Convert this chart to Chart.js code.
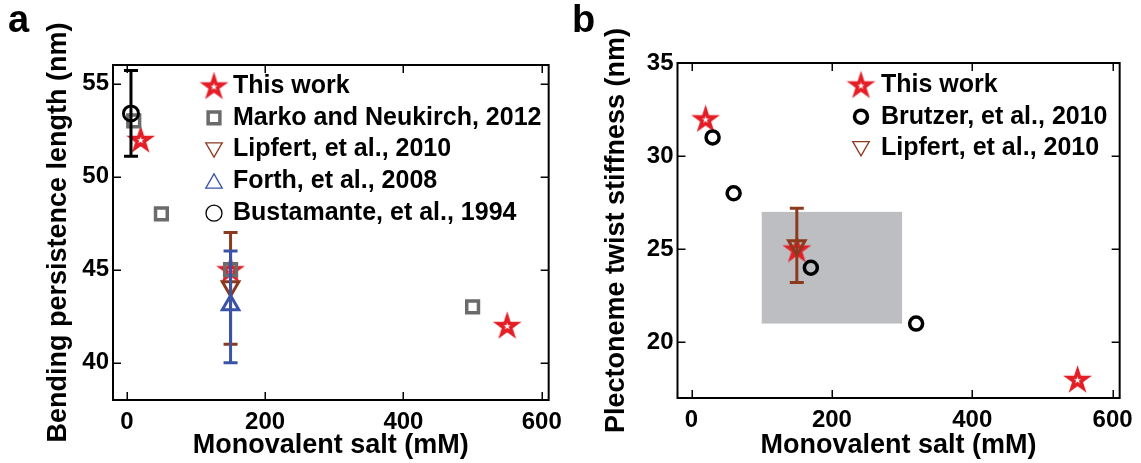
<!DOCTYPE html>
<html><head><meta charset="utf-8">
<script src="https://cdn.jsdelivr.net/npm/chart.js@4/dist/chart.umd.min.js"></script>
<style>
html,body{margin:0;padding:0;background:#fff;width:1141px;height:463px;overflow:hidden;}
#wrap{position:relative;width:1141px;height:463px;}
canvas{position:absolute;top:0;}
#ca{left:0;} #cb{left:570px;}
.lbl{position:absolute;font:bold 38px "Liberation Sans";line-height:38px;color:#000;}
</style></head><body>
<div id="wrap">
<canvas id="ca" width="570" height="463"></canvas>
<canvas id="cb" width="571" height="463"></canvas>
<div class="lbl" style="left:8px;top:0px">a</div>
<div class="lbl" style="left:572px;top:0px">b</div>
</div>
<script>
// ---------- data ----------
const xTicks = [0, 200, 400, 600];
const yTicksA = [40, 45, 50, 55];
const yTicksB = [20, 25, 30, 35];

// panel a
const thisWorkAX = [20, 150, 550];
const thisWorkAY = [52, 45, 42];
const markoX = [10, 50, 150, 500];
const markoY = [53, 48, 45, 43];
const lipfertAX = [150];
const lipfertAY = [44.1];
const lipfertALow = [41];
const lipfertAHigh = [47];
const forthX = [150];
const forthY = [43.1];
const forthLow = [40];
const forthHigh = [46];
const bustX = [6];
const bustY = [53.4];
const bustLow = [51.1];
const bustHigh = [55.7];

// panel b
const thisWorkBX = [20, 150, 550];
const thisWorkBY = [32, 25, 18];
const brutzerX = [30, 60, 170, 320];
const brutzerY = [31, 28, 24, 21];
const lipfertBX = [150];
const lipfertBY = [25.2];
const lipfertBLow = [23.2];
const lipfertBHigh = [27.2];
const shadeX = [100, 300];
const shadeY = [21, 27];

const labelsA = ["This work", "Marko and Neukirch, 2012", "Lipfert, et al., 2010", "Forth, et al., 2008", "Bustamante, et al., 1994"];
const labelsB = ["This work", "Brutzer, et al., 2010", "Lipfert, et al., 2010"];
const xTitle = "Monovalent salt (mM)";
const yTitleA = "Bending persistence length (nm)";
const yTitleB = "Plectoneme twist stiffness (nm)";

// ---------- styles ----------
const RED = '#e41e26', GRAY = '#6b6b6b', BROWN = '#8c3a1d', BLUE = '#3a53a6', BLACK = '#000000', SHADE = '#bdbec1';
const FONT = '"Liberation Sans", Arial, sans-serif';

function makeStar(R, lw, color) {
  const s = Math.ceil(2 * (R + lw * 2.5));
  const c = document.createElement('canvas');
  c.width = c.height = s;
  const g = c.getContext('2d');
  const cx = s / 2, cy = s / 2 + R * 0.095;
  g.beginPath();
  for (let k = 0; k < 10; k++) {
    const rr = k % 2 ? R * 0.382 : R;
    const ang = -Math.PI / 2 + k * Math.PI / 5;
    g.lineTo(cx + rr * Math.cos(ang), cy + rr * Math.sin(ang));
  }
  g.closePath();
  g.fillStyle = '#fff'; g.fill();
  g.lineJoin = 'miter'; g.miterLimit = 10;
  g.lineWidth = lw; g.strokeStyle = color; g.stroke();
  return c;
}
const STAR = makeStar(9.5, 3.5, RED);

const pts = (xs, ys) => xs.map((x, i) => ({x: x, y: ys[i]}));

// ---------- plugins ----------
const shadePlugin = {
  id: 'shade',
  beforeDatasetsDraw(chart, args, opts) {
    if (!opts || !opts.x) return;
    const {ctx, scales: {x, y}} = chart;
    const x0 = x.getPixelForValue(opts.x[0]), x1 = x.getPixelForValue(opts.x[1]);
    const y0 = y.getPixelForValue(opts.y[0]), y1 = y.getPixelForValue(opts.y[1]);
    ctx.save();
    ctx.fillStyle = opts.color;
    ctx.fillRect(x0, y1, x1 - x0, y0 - y1);
    ctx.restore();
  }
};

const errorPlugin = {
  id: 'errbars',
  beforeDatasetDraw(chart, args) {
    const ds = chart.data.datasets[args.index];
    if (!ds.errLow) return;
    const {ctx, scales: {x, y}} = chart;
    ctx.save();
    ctx.strokeStyle = ds.errColor;
    ctx.lineWidth = 3;
    ctx.lineCap = 'butt';
    const hw = 7;
    ds.data.forEach((p, i) => {
      const px = x.getPixelForValue(p.x);
      const lo = y.getPixelForValue(ds.errLow[i]);
      const hi = y.getPixelForValue(ds.errHigh[i]);
      ctx.beginPath();
      ctx.moveTo(px, lo); ctx.lineTo(px, hi);
      ctx.moveTo(px - hw, lo); ctx.lineTo(px + hw, lo);
      ctx.moveTo(px - hw, hi); ctx.lineTo(px + hw, hi);
      ctx.stroke();
    });
    ctx.restore();
  }
};

const framePlugin = {
  id: 'frame',
  afterDatasetsDraw(chart) {
    const {ctx, chartArea: a, scales: {x, y}} = chart;
    ctx.save();
    ctx.strokeStyle = '#000';
    ctx.lineWidth = 1.5;
    const L = 8;
    ctx.beginPath();
    x.ticks.forEach(t => {
      const px = Math.round(x.getPixelForValue(t.value)) + 0.25;
      ctx.moveTo(px, a.bottom); ctx.lineTo(px, a.bottom - L);
      ctx.moveTo(px, a.top); ctx.lineTo(px, a.top + L);
    });
    y.ticks.forEach(t => {
      const py = Math.round(y.getPixelForValue(t.value)) + 0.25;
      ctx.moveTo(a.left, py); ctx.lineTo(a.left + L, py);
      ctx.moveTo(a.right, py); ctx.lineTo(a.right - L, py);
    });
    ctx.stroke();
    ctx.lineWidth = 2;
    ctx.strokeRect(a.left, a.top, a.right - a.left, a.bottom - a.top);
    ctx.restore();
  }
};

function drawMarker(ctx, m, x, y) {
  if (m.style instanceof HTMLCanvasElement) {
    ctx.drawImage(m.style, x - m.style.width / 2, y - m.style.height / 2);
    return;
  }
  ctx.save();
  ctx.strokeStyle = m.color;
  ctx.lineWidth = m.lw;
  ctx.fillStyle = 'rgba(0,0,0,0)';
  Chart.helpers.drawPoint(ctx, {pointStyle: m.style, radius: m.r, rotation: m.rot || 0, borderWidth: m.lw}, x, y + (m.dy || 0));
  ctx.restore();
}

const legendPlugin = {
  id: 'insideLegend',
  afterDraw(chart, args, opts) {
    const ctx = chart.ctx;
    ctx.save();
    chart.data.datasets.forEach((ds, i) => {
      const y = opts.y0 + i * opts.dy;
      drawMarker(ctx, ds.legendMarker, opts.mx, y);
      ctx.font = opts.font;
      ctx.fillStyle = '#000';
      ctx.textBaseline = 'middle';
      ctx.textAlign = 'left';
      ctx.fillText(ds.label, opts.tx, y);
    });
    ctx.restore();
  }
};

function makeOptions(cfg) {
  return {
    responsive: false,
    animation: false,
    events: [],
    layout: {autoPadding: false, padding: cfg.padding},
    plugins: {
      legend: {display: false},
      tooltip: {enabled: false},
      shade: cfg.shade || {},
      insideLegend: cfg.legend
    },
    scales: {
      x: {
        type: 'linear', position: 'bottom', min: -20, max: 610,
        grid: {display: false, drawTicks: false},
        border: {display: false},
        afterBuildTicks: s => { s.ticks = xTicks.map(v => ({value: v})); },
        afterFit: s => { s.height = cfg.xHeight; },
        ticks: {color: '#000', padding: cfg.xTickPad, maxRotation: 0, font: {family: FONT, weight: 'bold', size: 24}},
        title: {display: true, text: xTitle, color: '#000', padding: {top: 0, bottom: cfg.xTitlePad}, font: {family: FONT, weight: 'bold', size: 27}}
      },
      y: {
        type: 'linear', position: 'left', min: cfg.yMin, max: cfg.yMax,
        grid: {display: false, drawTicks: false},
        border: {display: false},
        afterBuildTicks: s => { s.ticks = cfg.yTicks.map(v => ({value: v})); },
        afterFit: s => { s.width = cfg.yWidth; },
        ticks: {color: '#000', padding: 4, font: {family: FONT, weight: 'bold', size: 24}},
        title: {display: true, text: cfg.yTitle, color: '#000', padding: {top: 0, bottom: 0}, font: {family: FONT, weight: 'bold', size: 27}}
      }
    }
  };
}

const plugins = [shadePlugin, errorPlugin, framePlugin, legendPlugin];

new Chart(document.getElementById('ca'), {
  type: 'scatter',
  data: {
    datasets: [
      {label: labelsA[0], data: pts(thisWorkAX, thisWorkAY), pointStyle: STAR, pointRadius: 10, order: 5,
       legendMarker: {style: STAR}},
      {label: labelsA[1], data: pts(markoX, markoY), pointStyle: 'rect', pointRadius: 8.3, borderWidth: 3.5,
       borderColor: GRAY, backgroundColor: 'rgba(0,0,0,0)', order: 4,
       legendMarker: {style: 'rect', r: 8.3, lw: 3.5, color: GRAY}},
      {label: labelsA[2], data: pts(lipfertAX, lipfertAY), pointStyle: 'triangle', rotation: 180, pointRadius: 9.5, borderWidth: 3,
       borderColor: BROWN, backgroundColor: 'rgba(0,0,0,0)', order: 3,
       errLow: lipfertALow, errHigh: lipfertAHigh, errColor: BROWN,
       legendMarker: {style: 'triangle', rot: 180, r: 9.5, lw: 1.3, color: BROWN, dy: -2}},
      {label: labelsA[3], data: pts(forthX, forthY), pointStyle: 'triangle', pointRadius: 9.5, borderWidth: 3,
       borderColor: BLUE, backgroundColor: 'rgba(0,0,0,0)', order: 2,
       errLow: forthLow, errHigh: forthHigh, errColor: BLUE,
       legendMarker: {style: 'triangle', r: 9.5, lw: 1.3, color: BLUE, dy: 2}},
      {label: labelsA[4], data: pts(bustX, bustY), pointStyle: 'circle', pointRadius: 7.5, borderWidth: 3,
       borderColor: BLACK, backgroundColor: 'rgba(0,0,0,0)', order: 1,
       errLow: bustLow, errHigh: bustHigh, errColor: BLACK,
       legendMarker: {style: 'circle', r: 8, lw: 1.3, color: BLACK}}
    ]
  },
  options: makeOptions({
    padding: {left: 42, top: 65, right: 14, bottom: 0},
    yWidth: 71, xHeight: 63, xTickPad: 8, xTitlePad: 1,
    yMin: 38, yMax: 56, yTicks: yTicksA, yTitle: yTitleA,
    legend: {mx: 214, tx: 233, y0: 86, dy: 31.8, font: 'bold 25px ' + FONT}
  }),
  plugins: plugins
});

new Chart(document.getElementById('cb'), {
  type: 'scatter',
  data: {
    datasets: [
      {label: labelsB[0], data: pts(thisWorkBX, thisWorkBY), pointStyle: STAR, pointRadius: 10, order: 3,
       legendMarker: {style: STAR}},
      {label: labelsB[1], data: pts(brutzerX, brutzerY), pointStyle: 'circle', pointRadius: 6.5, borderWidth: 3.5,
       borderColor: BLACK, backgroundColor: 'rgba(0,0,0,0)', order: 2,
       legendMarker: {style: 'circle', r: 6.5, lw: 3.5, color: BLACK}},
      {label: labelsB[2], data: pts(lipfertBX, lipfertBY), pointStyle: 'triangle', rotation: 180, pointRadius: 9.5, borderWidth: 3,
       borderColor: BROWN, backgroundColor: 'rgba(0,0,0,0)', order: 1,
       errLow: lipfertBLow, errHigh: lipfertBHigh, errColor: BROWN,
       legendMarker: {style: 'triangle', rot: 180, r: 9.5, lw: 1.3, color: BROWN, dy: -2}}
    ]
  },
  options: makeOptions({
    padding: {left: 30, top: 63, right: 21, bottom: 0},
    yWidth: 77.5, xHeight: 65, xTickPad: 8, xTitlePad: 1,
    yMin: 17, yMax: 35, yTicks: yTicksB, yTitle: yTitleB,
    shade: {x: shadeX, y: shadeY, color: SHADE},
    legend: {mx: 291, tx: 311, y0: 85, dy: 31.7, font: 'bold 25px ' + FONT}
  }),
  plugins: plugins
});
</script>
</body></html>
